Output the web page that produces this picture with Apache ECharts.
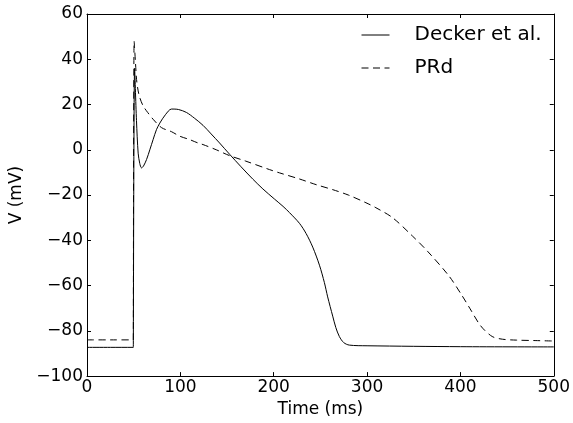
<!DOCTYPE html>
<html>
<head>
<meta charset="utf-8">
<script src="https://cdn.jsdelivr.net/npm/echarts@6/dist/echarts.min.js"></script>
<style>html,body{margin:0;padding:0;background:#fff}#c{width:573px;height:423px}</style>
</head>
<body>
<div id="c"></div>
<script>
const seriesNames = ['Decker et al.', 'PRd'];
const deckerT = [0, 25, 49.6, 50, 51, 53, 54.8, 56.5, 58.4, 60.5, 63.8, 67.3, 70.8, 74.4, 78, 84, 90.5, 98, 106.5, 115, 124.3, 133, 142, 152.8, 165, 177.7, 188.4, 200.9, 210, 217, 227.6, 234.7, 241.8, 249, 254.3, 257.8, 263.2, 266.5, 270.3, 275, 281, 300, 400, 500];
const deckerV = [-87.3, -87.3, -87.3, -87.3, 36, 13, -1.5, -6, -8, -7.2, -4.3, 0, 4.5, 8.9, 11.8, 15.5, 18, 17.8, 16.5, 14, 10.8, 7, 3, -2, -7.5, -13, -17.3, -21.8, -25, -27.8, -32.5, -37, -43, -51, -58.7, -65, -73.5, -78.5, -82.5, -85.2, -86.3, -86.6, -87, -87.1];
const prdT = [0, 25, 49.6, 50, 50.5, 52, 53.1, 54.8, 56.6, 60, 65, 70.8, 79.8, 90.5, 99.4, 110, 118.9, 124.3, 138.5, 152.8, 170, 195.5, 206.2, 227.6, 245.4, 263.1, 280, 298.8, 309.5, 327.3, 348.6, 364.7, 387.8, 402, 410, 421.7, 434, 445, 460, 480, 500];
const prdV = [-84, -84, -84, -84, 48, 38, 31, 26, 23, 19.5, 16.5, 13.5, 9.8, 8, 6, 4.5, 3, 2.3, 0, -2.6, -5, -8.75, -10.2, -12.9, -15.4, -17.6, -20, -23.4, -25.6, -30, -38.1, -44.8, -55.8, -64.6, -70, -77.8, -82.5, -83.7, -84.1, -84.3, -84.5];
const xTicks = [0, 100, 200, 300, 400, 500];
const yTicks = [-100, -80, -60, -40, -20, 0, 20, 40, 60];
const xLabel = 'Time (ms)';
const yLabel = 'V (mV)';

const font = 'DejaVu Sans';
const fmt = v => (v < 0 ? '\u2212' + Math.abs(v) : String(v));
const pairs = (t, v) => t.map((x, i) => [x, v[i]]);

const axisLine = { show: true, onZero: false, lineStyle: { color: '#000', width: 1 } };
const tick = { show: true, inside: true, length: 4, lineStyle: { color: '#000', width: 1 } };

const xMin = xTicks[0], xMax = xTicks[xTicks.length - 1], xInt = xTicks[1] - xTicks[0];
const yMin = yTicks[0], yMax = yTicks[yTicks.length - 1], yInt = yTicks[1] - yTicks[0];

const chart = echarts.init(document.getElementById('c'), null, { renderer: 'canvas' });
chart.setOption({
  animation: false,
  backgroundColor: '#fff',
  textStyle: { fontFamily: font },
  grid: { left: 87, right: 19, top: 14, bottom: 46, containLabel: false },
  legend: {
    orient: 'vertical',
    left: 361, top: 25, padding: 0,
    itemWidth: 28, itemHeight: 14, itemGap: 13,
    itemStyle: { opacity: 0 },
    lineStyle: { width: 1 },
    textStyle: { fontFamily: font, fontSize: 20, color: '#000', padding: [0, 0, 0, 20] },
    data: seriesNames
  },
  xAxis: [{
    type: 'value', min: xMin, max: xMax, interval: xInt, position: 'bottom',
    name: xLabel, nameLocation: 'middle', nameGap: 17,
    nameTextStyle: { fontFamily: font, fontSize: 17, color: '#000' },
    axisLine, axisTick: tick, splitLine: { show: false },
    axisLabel: { fontFamily: font, fontSize: 17, color: '#000', margin: 3, formatter: fmt }
  }, {
    type: 'value', min: xMin, max: xMax, interval: xInt, position: 'top',
    axisLine, axisTick: tick, splitLine: { show: false }, axisLabel: { show: false }
  }],
  yAxis: [{
    type: 'value', min: yMin, max: yMax, interval: yInt, position: 'left',
    name: yLabel, nameLocation: 'middle', nameGap: 53, nameRotate: 90,
    nameTextStyle: { fontFamily: font, fontSize: 17, color: '#000' },
    axisLine, axisTick: tick, splitLine: { show: false },
    axisLabel: { fontFamily: font, fontSize: 17, color: '#000', margin: 4, formatter: fmt }
  }, {
    type: 'value', min: yMin, max: yMax, interval: yInt, position: 'right',
    axisLine, axisTick: tick, splitLine: { show: false }, axisLabel: { show: false }
  }],
  series: [{
    name: seriesNames[0], type: 'line', data: pairs(deckerT, deckerV),
    showSymbol: false, symbol: 'none', smooth: 0.3,
    lineStyle: { color: '#000', width: 1, type: 'solid' }, itemStyle: { color: '#000' }
  }, {
    name: seriesNames[1], type: 'line', data: pairs(prdT, prdV),
    showSymbol: false, symbol: 'none', smooth: 0.3,
    lineStyle: { color: '#000', width: 1, type: [7, 4.5] }, itemStyle: { color: '#000' }
  }]
});
</script>
</body>
</html>
